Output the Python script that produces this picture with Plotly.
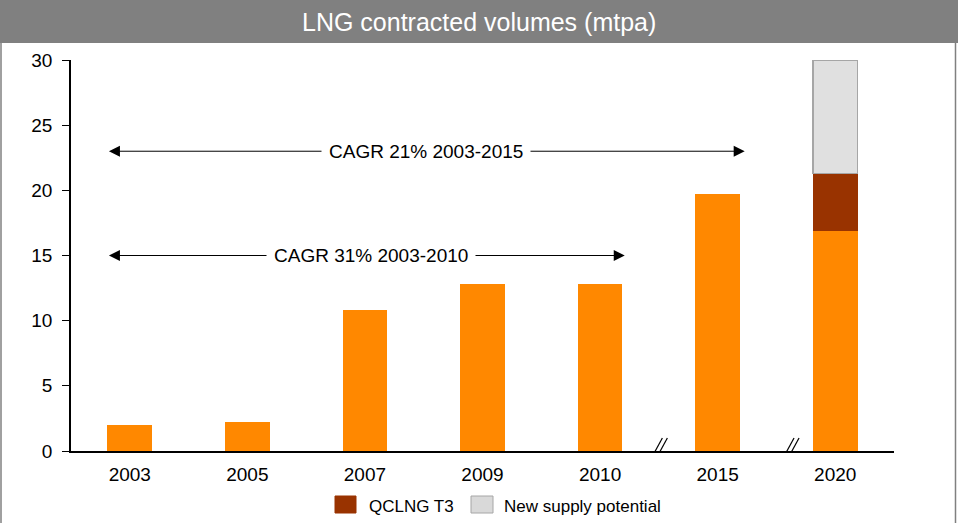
import plotly.graph_objects as go

years = ["2003", "2005", "2007", "2009", "2010", "2015", "2020"]
base_vals = [2.0, 2.2, 10.8, 12.8, 12.8, 19.7, 16.9]
qclng_vals = [None, None, None, None, None, None, 4.4]
new_supply_vals = [None, None, None, None, None, None, 8.7]
y_ticks = [0, 5, 10, 15, 20, 25, 30]

FONT = "Liberation Sans, Arial, sans-serif"
BROWN = "#993300"
GREY_FILL = "#E0E0E0"
GREY_LINE = "#A6A6A6"

fig = go.Figure()
fig.add_trace(go.Bar(x=years, y=base_vals, marker=dict(color="#FF8800", line=dict(width=0)),
                     showlegend=False, name="Contracted"))
fig.add_trace(go.Bar(x=years, y=qclng_vals, marker=dict(color=BROWN, line=dict(width=0)),
                     showlegend=False, name="QCLNG T3"))
fig.add_trace(go.Bar(x=years, y=new_supply_vals,
                     marker=dict(color=GREY_FILL, line=dict(color=GREY_LINE, width=1.5)),
                     showlegend=False, name="New supply potential"))

W, H = 958, 523
L, R, T, B = 71, 64, 60, 72
pw, ph = W - L - R, H - T - B

def px_x(p):
    return (p - L) / pw

def px_y(p):
    return (H - B - p) / ph

shapes = []
# title bar
shapes.append(dict(type="rect", xref="paper", yref="paper",
                   x0=px_x(0), x1=px_x(W), y0=px_y(43), y1=px_y(0),
                   fillcolor="#808080", line=dict(width=0), layer="above"))
# borders
for xp in (1, 955.5):
    shapes.append(dict(type="line", xref="paper", yref="paper",
                       x0=px_x(xp), x1=px_x(xp), y0=px_y(43), y1=px_y(H),
                       line=dict(color="#808080", width=1.5)))
# axis break marks
for xb in (4.5, 5.62):
    shapes.append(dict(type="rect", xref="x", yref="y", xsizemode="pixel", ysizemode="pixel",
                       xanchor=xb, yanchor=0, x0=-5, x1=5, y0=-1, y1=1,
                       fillcolor="white", line=dict(width=0)))
    for off in (-2.5, 2.5):
        shapes.append(dict(type="line", xref="x", yref="y", xsizemode="pixel", ysizemode="pixel",
                           xanchor=xb, yanchor=0, x0=off - 6, x1=off + 6, y0=-9, y1=13,
                           line=dict(color="black", width=1.2)))

# manual legend swatches
legend_items = [("QCLNG T3", BROWN, BROWN, 335, 356, 367),
                ("New supply potential", "#D9D9D9", GREY_LINE, 471, 493, 502)]
annotations = []
for label, fill, edge, sx0, sx1, tx in legend_items:
    shapes.append(dict(type="rect", xref="paper", yref="paper",
                       x0=px_x(sx0), x1=px_x(sx1), y0=px_y(513), y1=px_y(496),
                       fillcolor=fill, line=dict(color=edge, width=1)))
    annotations.append(dict(x=px_x(tx), y=px_y(506), xref="paper", yref="paper",
                            xanchor="left", yanchor="middle", text=label, showarrow=False,
                            font=dict(family=FONT, size=17, color="black")))

arrows = [(-0.19, 5.23, 23, "CAGR 21% 2003-2015", 2.52),
          (-0.19, 4.21, 15, "CAGR 31% 2003-2010", 2.05)]
for x0, x1, yv, txt, xt in arrows:
    annotations.append(dict(x=x1, y=yv, ax=x0, ay=yv, xref="x", yref="y", axref="x", ayref="y",
                            text="", showarrow=True, arrowhead=2, arrowside="end+start",
                            arrowsize=2.2, arrowwidth=1, arrowcolor="black", startarrowhead=2,
                            startarrowsize=2.2))
    annotations.append(dict(x=xt, y=yv, xref="x", yref="y", text=txt, showarrow=False,
                            bgcolor="white", borderpad=7,
                            font=dict(family=FONT, size=19, color="black")))

annotations.append(dict(x=px_x(W / 2), y=px_y(22), xref="paper", yref="paper",
                        xanchor="center", yanchor="middle",
                        text="LNG contracted volumes (mtpa)", showarrow=False,
                        font=dict(family=FONT, size=25, color="white")))

fig.update_layout(
    width=W, height=H,
    margin=dict(l=L, r=R, t=T, b=B),
    barmode="stack", bargap=0.62,
    plot_bgcolor="white", paper_bgcolor="white",
    font=dict(family=FONT, size=19, color="black"),
    showlegend=False,
    xaxis=dict(type="category", range=[-0.5, 6.5], showline=True, linecolor="black",
               linewidth=1.5, ticks="", showgrid=False, zeroline=False,
               tickfont=dict(size=19), ticklabelstandoff=5),
    yaxis=dict(range=[0, 30], tickvals=y_ticks, showline=True, linecolor="black",
               linewidth=1.5, ticks="outside", ticklen=7, tickcolor="black",
               showgrid=False, zeroline=False, tickfont=dict(size=19),
               ticklabelstandoff=6),
    shapes=shapes,
    annotations=annotations,
)

fig.write_html("out.html", config={"displayModeBar": False},
               post_script="document.body.style.margin='0';document.body.style.padding='0';")
